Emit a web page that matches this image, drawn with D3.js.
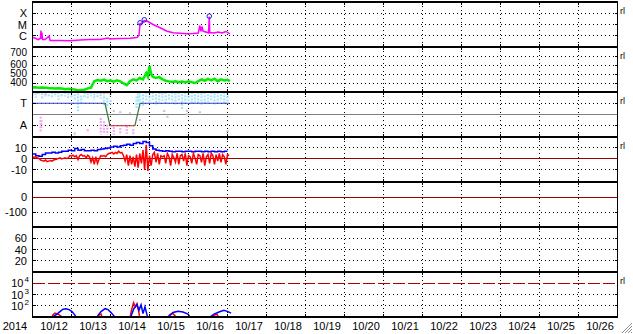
<!DOCTYPE html>
<html>
<head>
<meta charset="utf-8">
<script src="https://cdn.jsdelivr.net/npm/d3@7"></script>
<style>
body { margin: 0; background: #fff; }
text { font-family: "Liberation Sans", Arial, Helvetica, sans-serif; fill: #000; }
</style>
</head>
<body>
<div id="chart"></div>
<script>
// all series times are hours after 2014-10-11 00:00

// x-ray flux [hour, W/m2]
const xray = [
  [0.3,7e-7],[2.2,5.7e-7],[3.4,4.6e-7],[4.9,5.7e-7],[5.2,2.9e-6],[5.5,5.1e-7],[5.8,1.95e-6],[6.2,4.6e-7],
  [7.7,4.6e-7],[10.2,9.1e-7],[10.8,3.8e-7],[16.9,3.8e-7],[23,3.6e-7],[29.2,4.2e-7],[35.4,4.6e-7],
  [41.5,4.6e-7],[46.5,6.3e-7],[47.7,5.1e-7],[53.8,5.7e-7],[60,5.9e-7],[64.3,7e-7],[65.5,1.05e-6],
  [66.2,1.23e-5],[67.4,1.23e-5],[68.8,2.27e-5],[70.5,2.05e-5],[74.2,1e-5],[78.5,5.1e-6],[82.8,2.5e-6],
  [86.5,1.83e-6],[90.8,1.69e-6],[95,1.49e-6],[98.8,1.58e-6],[102,1.75e-6],[103,8.1e-6],[103.7,2.5e-6],
  [104.3,6.6e-6],[105,2.5e-6],[106.8,2.15e-6],[108.3,1.75e-6],[108.8,5.1e-5],[109.1,1.95e-6],
  [111.7,1.75e-6],[114.2,2.15e-6],[116.6,1.75e-6],[119,2.4e-6],[121.5,1.49e-6]
];
const flareMarks = [[66.2,1.4e-5],[68.8,2.6e-5],[108.8,5.5e-5]];
const xrayLevels = [1e-4, 1e-5, 1e-6];
const xrayNames = ["X", "M", "C"];

// solar wind speed [hour, km/s]
const speed = [
  [0,350],[2,352],[4,346],[6,350],[8,348],[10,345],[12,343],[14,340],[16,342],[18,338],[20,330],
  [22,336],[24,332],[26,328],[28,318],[30,322],[32,325],[34,340],[36,348],[38,420],[40,432],[42,425],
  [44,438],[46,420],[48,428],[50,415],[52,430],[54,418],[56,395],[58,375],[60,420],[62,440],[64,428],
  [66,455],[68,440],[70,510],[71,470],[72,590],[73,500],[74,470],[76,455],[78,465],[80,440],[82,425],
  [84,418],[86,412],[88,420],[90,408],[92,415],[94,405],[96,418],[98,410],[100,400],[102,420],
  [104,440],[106,425],[108,445],[110,430],[112,448],[114,420],[116,440],[118,428],[120,435],[121.5,420]
];
const speedTicks = [400, 500, 600, 700];

// IMF sector: toward = 1, away = -1
const sectorHours = [0, 44.6, 47.7, 63, 66.2, 120.9];
const sectorValues = [1, 1, -1, -1, 1, 1];
// angle scatter bands [hour, upper, lower] in sector units
const phiBlue = [
  [0,2,1.6],[2,1.9,1.5],[4,2,1.7],[6,1.9,1.4],[8,2,1.6],[10,1.8,1.5],[12,2,1.5],[14,1.9,1.6],[16,2,1.3],
  [18,1.8,1.5],[20,2,1.6],[22,1.9,1.4],[24,2,1.5],[26,1.8,1.2],[28,1.9,0.2],[30,1.7,0.9],[32,2,1.5],
  [34,1.9,1.4],[36,2,1.6],[38,1.9,1.3],[40,2,1.5],[42,1.8,1.4],[44,1.6,0.8],[46,1.5,0.6],[48,1.3,0.9],
  [64,1.6,0.5],[65,1.9,0.9],[66,2,1.1],[68,1.8,0.7],[70,2,1.2],[72,1.9,1],[74,2,1.3],[76,1.8,0.9],
  [78,2,1.1],[80,1.9,1.2],[82,2,1],[84,1.8,1.2],[86,2,1.1],[88,1.9,0.9],[90,2,1.2],[92,1.8,0.5],
  [94,2,1.1],[96,1.9,1.2],[98,2,1],[100,1.8,1.1],[102,2,0.9],[104,1.9,0.8],[106,2,1],[108,1.8,1.1],
  [110,2,1.2],[112,1.9,0.9],[114,2,1.1],[116,1.8,1.2],[118,2,1],[120,1.9,1.1]
];
const phiGray = [
  [0,1.9,1.7],[3,2,1.8],[8,1.9,1.7],[26,-1.6,-1.9],[42,2,1.7],[44,1.95,1.6],[46,2,1.8],[48,1.9,1.6],
  [50,0.4,0.1],[54,0.3,0],[60,0.2,-0.1],[81,0.4,0.1],[95,0.4,-0.2],[103,0.3,0],[120,-1.4,-1.7]
];
const phiPink = [
  [5,-0.2,-1.6],[5.5,-0.5,-1.2],[34,-1.3,-1.6],[42,-0.3,-1.8],[44,-0.6,-1.7],[46,-0.9,-1.8],
  [50,-1.1,-1.8],[54,-1.2,-1.8],[58,-1,-1.7],[62,-1.3,-1.8],[66,-0.4,-0.6],[83,-0.1,-0.3]
];

// IMF Bt every 2 h, Bz every 1 h (nT)
const btValues = [4.5,3,2.5,4,5.5,5.5,6,5.5,6,7,7,8,7.5,9.5,8,8.5,7.5,7.5,8,7.5,8.5,9,9.5,10,11,11.5,
  11,12,12.5,13.5,12.5,14,15,14,16,15,12,9,8,7.5,7,7.5,7,6.5,7,7,6.5,7,7,6.5,7,7,6.5,7,6.5,7,6.5,7,6.5,7,7];
const bzValues = [2,1.5,2,1,0.5,
  -1,-1.5,-2,-1,-2.5,-2,-1.5,-2,-1,-0.5,0,
  0.5,1,0,0.5,1,0.5,1,
  3,2.5,3.5,2,3,-0.5,3,4,2.5,3,1,3.5,2,
  -3,1,-5,2,-4,0,3,
  2.5,3,2,4,
  5,5.5,6,4.5,6,5,7,5.5,6,3,
  -2,4,-6,3,-5,2,-7,
  4,-8,5,-4,8,-10,13,-11,3,
  -6,4,6,-3,5,-5,3,2,
  3,-4,5,2,-6,4,1,-3,5,-5,3,4,-2,5,-6,3,2,-4,5,1,
  -5,4,3,-3,5,-6,2,4,-4,5,3,-5,4,-2,5,-3,4,2,-5,4,3];
const bzTicks = [10, 0, -10];

const dstTicks = [0, -100];
const kpTicks = [20, 40, 60];

// proton flux [hour, pfu]; values under 10 are off the bottom
const protonBlue = [
  [12,5],[13.2,12],[15.1,18],[16.9,30],[18.8,50],[20.6,55],[22.5,45],[24.3,30],[26.2,14],[27.4,5],
  [39,5],[40.3,14],[42.2,30],[44.6,55],[46.5,45],[48.3,25],[50.2,12],[51.4,5],
  [58.8,5],[60.6,12],[62.5,60],[64.3,130],[65.5,40],[66.8,120],[68,20],[69.2,80],[70.5,15],[71.1,5],
  [82.2,5],[84,12],[86.5,25],[89.5,32],[92.6,28],[95.7,18],[98.2,5],
  [107.4,5],[109.2,10],[111.7,18],[114.8,28],[117.8,40],[120.3,30],[122.2,22]
];
const protonRed = [
  [11.4,5],[12.6,16],[13.8,22],[15.7,18],[17.5,12],[18.8,5],
  [39.7,5],[40.9,15],[42.2,18],[43.4,5],
  [59.7,5],[60.9,40],[62.2,190],[63.4,80],[64.3,150],[65.5,25],[66.2,5],
  [83.1,5],[84.3,15],[86.2,22],[88,12],[88.6,5],
  [110.5,5],[111.7,14],[113.5,18],[115.4,5]
];
const protonTicks = [2, 3, 4];

const W = 633, H = 334;
const left = 32.5, right = 617.5;
const panelH = 45;
const t0 = new Date(2014, 9, 11), t1 = new Date(2014, 9, 26);
const at = h => new Date(+t0 + h * 36e5);
const crisp = v => Math.round(v - 0.5) + 0.5;

const x = d3.scaleTime().domain([t0, t1]).range([left, right]);

const panels = [
  { y: d3.scaleLog().domain([1e-7, 1e-3]), grid: xrayLevels, labels: xrayLevels.map((v, i) => [v, xrayNames[i], 0]), rl: true },
  { y: d3.scaleLinear().domain([300, 800]), grid: speedTicks, labels: speedTicks.map(v => [v, String(v), v === 700 ? -4 : -1]), rl: true, fs: 10 },
  { y: d3.scaleLinear().domain([-2, 2]), grid: [1, -1], labels: [[1, "T", 0], [-1, "A", -1]], solid: [[0, "#808080"]], rl: true },
  { y: d3.scaleLinear().domain([-21, 20]), grid: [10, -10], labels: bzTicks.map(v => [v, String(v), 0]), solid: [[0, "#a00000"]], rl: true },
  { y: d3.scaleLinear().domain([-200, 100]), grid: [-100], labels: dstTicks.map(v => [v, String(v), 0]), solid: [[0, "#a00000"]] },
  { y: d3.scaleLinear().domain([0, 80]), grid: kpTicks, labels: kpTicks.map(v => [v, String(v), 0]) },
  { y: d3.scaleLog().domain([10, 1e5]), grid: [1e2, 1e3], labels: [], dashed: [[1e4, "#b00000"]], rl: true }
];
panels.forEach((p, i) => {
  p.top = 2 + i * panelH;
  p.bot = p.top + panelH;
  p.y.range([p.bot, p.top]);
});

const svg = d3.select("#chart").append("svg")
  .attr("width", W).attr("height", H);

const defs = svg.append("defs");
panels.forEach((p, i) => {
  defs.append("clipPath").attr("id", "clip" + i)
    .append("rect").attr("x", left).attr("y", p.top).attr("width", right - left).attr("height", panelH);
});

const days = d3.timeDay.range(d3.timeDay.offset(t0, 1), t1);

// grid
panels.forEach(p => {
  const g = svg.append("g").attr("shape-rendering", "crispEdges");
  g.selectAll(null).data(days).join("line")
    .attr("x1", d => crisp(x(d))).attr("x2", d => crisp(x(d)))
    .attr("y1", p.top).attr("y2", p.bot)
    .attr("stroke", "#000").attr("stroke-dasharray", "1,3");
  g.selectAll(null).data(p.grid).join("line")
    .attr("x1", left).attr("x2", right)
    .attr("y1", d => crisp(p.y(d))).attr("y2", d => crisp(p.y(d)))
    .attr("stroke", "#000").attr("stroke-dasharray", "1,3");
  (p.solid || []).forEach(([v, c]) => {
    g.append("line").attr("x1", left).attr("x2", right)
      .attr("y1", crisp(p.y(v))).attr("y2", crisp(p.y(v)))
      .attr("stroke", c);
  });
  (p.dashed || []).forEach(([v, c]) => {
    g.append("line").attr("x1", left).attr("x2", right)
      .attr("y1", crisp(p.y(v))).attr("y2", crisp(p.y(v)))
      .attr("stroke", c).attr("stroke-dasharray", "12,3");
  });
});

function plot(i) {
  return svg.append("g").attr("clip-path", "url(#clip" + i + ")");
}

// panel 1: x-ray
{
  const p = panels[0];
  const g = plot(0);
  g.append("path").datum(xray)
    .attr("d", d3.line().x(d => x(at(d[0]))).y(d => p.y(d[1])))
    .attr("fill", "none").attr("stroke", "#ff00ff").attr("stroke-width", 1.5);
  g.selectAll(null).data(flareMarks).join("circle")
    .attr("cx", d => x(at(d[0]))).attr("cy", d => p.y(d[1])).attr("r", 2.3)
    .attr("fill", "none").attr("stroke", "#1a1aee").attr("stroke-width", 1);
}

// panel 2: speed
{
  const p = panels[1];
  plot(1).append("path").datum(speed)
    .attr("d", d3.line().x(d => x(at(d[0]))).y(d => p.y(d[1])))
    .attr("fill", "none").attr("stroke", "#00ee00").attr("stroke-width", 2.5);
}

// panel 3: sector
{
  const p = panels[2];
  const g = plot(2);
  [[phiGray, "#c8c8c8"], [phiPink, "#f2a8f2"], [phiBlue, "#a6e2fa"]].forEach(([data, c]) => {
    g.selectAll(null).data(data).join("line")
      .attr("x1", d => x(at(d[0]))).attr("x2", d => x(at(d[0])))
      .attr("y1", d => p.y(d[1])).attr("y2", d => p.y(d[2]))
      .attr("stroke", c).attr("stroke-width", 2.2).attr("stroke-dasharray", "2,1.2");
  });
  const segs = d3.pairs(sectorHours.map((h, k) => [h, sectorValues[k]]));
  g.selectAll(null).data(segs).join("line")
    .attr("x1", d => x(at(d[0][0]))).attr("x2", d => x(at(d[1][0])))
    .attr("y1", d => p.y(d[0][1])).attr("y2", d => p.y(d[1][1]))
    .attr("stroke", d => d[0][1] !== d[1][1] ? "#3a7a3a" : d[0][1] > 0 ? "#3344cc" : "#cc2222")
    .attr("stroke-width", 1.2);
}

// panel 4: Bt / Bz
{
  const p = panels[3];
  const g = plot(3);
  g.append("path").datum(btValues)
    .attr("d", d3.line().curve(d3.curveStepAfter).x((d, k) => x(at(k * 2))).y(d => p.y(d)))
    .attr("fill", "none").attr("stroke", "#0000ff").attr("stroke-width", 1.5);
  g.append("path").datum(bzValues)
    .attr("d", d3.line().x((d, k) => x(at(k))).y(d => p.y(d)))
    .attr("fill", "none").attr("stroke", "#ff0000").attr("stroke-width", 1.5);
}

// panel 7: protons
{
  const p = panels[6];
  const g = plot(6);
  [[protonRed, "#ff0000"], [protonBlue, "#0000ff"]].forEach(([data, c]) => {
    g.append("path").datum(data)
      .attr("d", d3.line().x(d => x(at(d[0]))).y(d => p.y(d[1])))
      .attr("fill", "none").attr("stroke", c).attr("stroke-width", 1.5);
  });
}

// borders and ticks
const frame = svg.append("g").attr("shape-rendering", "crispEdges");
panels.forEach(p => {
  frame.selectAll(null).data(days).join("line")
    .attr("x1", d => crisp(x(d))).attr("x2", d => crisp(x(d)))
    .attr("y1", p.top).attr("y2", p.top + 3).attr("stroke", "#000");
  frame.selectAll(null).data(days).join("line")
    .attr("x1", d => crisp(x(d))).attr("x2", d => crisp(x(d)))
    .attr("y1", p.bot - 3).attr("y2", p.bot).attr("stroke", "#000");
  frame.selectAll(null).data(p.grid).join("line")
    .attr("x1", right - 3).attr("x2", right)
    .attr("y1", d => crisp(p.y(d))).attr("y2", d => crisp(p.y(d))).attr("stroke", "#000");
  frame.selectAll(null).data(p.grid).join("line")
    .attr("x1", left).attr("x2", left + 3)
    .attr("y1", d => crisp(p.y(d))).attr("y2", d => crisp(p.y(d))).attr("stroke", "#000");
});
frame.selectAll(null).data(d3.range(panels.length + 1)).join("line")
  .attr("x1", left - 0.5).attr("x2", right + 0.5)
  .attr("y1", i => 2 + i * panelH).attr("y2", i => 2 + i * panelH)
  .attr("stroke", "#000").attr("stroke-width", 2);
[left, right].forEach(v => {
  frame.append("line").attr("x1", v).attr("x2", v)
    .attr("y1", 1).attr("y2", 2 + panels.length * panelH + 1)
    .attr("stroke", "#000");
});

// y labels
panels.forEach(p => {
  svg.append("g").selectAll(null).data(p.labels).join("text")
    .attr("x", 27).attr("y", d => p.y(d[0]) + 4 + d[2])
    .attr("text-anchor", "end").attr("font-size", p.fs || 11)
    .text(d => d[1]);
  if (p.rl) {
    svg.append("text").attr("x", 620).attr("y", p.top + 12)
      .attr("font-size", 9).text("rl");
  }
});
{
  const p = panels[6];
  const g = svg.append("g");
  protonTicks.forEach(e => {
    const yy = p.y(Math.pow(10, e));
    g.append("text").attr("x", 23.5).attr("y", yy + 4)
      .attr("text-anchor", "end").attr("font-size", 11).text("10");
    g.append("text").attr("x", 24.5).attr("y", yy - 1)
      .attr("font-size", 8).text(e);
  });
}

// x labels
const labelDays = d3.timeDay.range(d3.timeDay.offset(t0, 1), d3.timeDay.offset(t1, 1));
svg.append("g").selectAll(null).data(labelDays).join("text")
  .attr("x", d => x(d) - 17.5).attr("y", 329.5)
  .attr("text-anchor", "middle").attr("font-size", 11)
  .text(d3.timeFormat("%m/%d"));
svg.append("text").attr("x", 15).attr("y", 329.5)
  .attr("text-anchor", "middle").attr("font-size", 11).text("2014");

// window resize grip
svg.append("g").selectAll(null).data([0, 3, 6, 9]).join("line")
  .attr("x1", d => 622 + d).attr("y1", 333)
  .attr("x2", 632).attr("y2", d => 323 + d)
  .attr("stroke", "#909090").attr("stroke-width", 1);
</script>
</body>
</html>
